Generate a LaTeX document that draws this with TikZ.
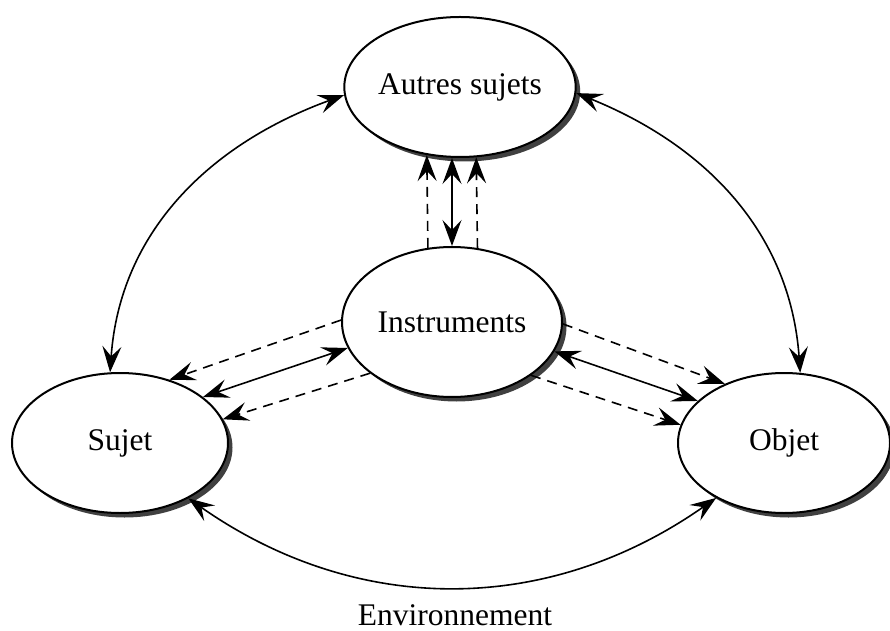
\documentclass[tikz,border=0pt]{standalone}
\usepackage{fontspec}
\setmainfont{Liberation Serif}
\usetikzlibrary{shapes.geometric,arrows.meta,shadows}
\begin{document}
\begin{tikzpicture}[x=1pt,y=1pt,
  blob/.style={ellipse,draw,line width=2pt,fill=white,inner sep=0pt,
    font=\fontsize{31.5}{36}\selectfont,
    drop shadow={shadow xshift=4.5pt,shadow yshift=-4.5pt,fill=black!75,opacity=1}},
  conn/.style={line width=1.6pt},
  tip/.style={-{Stealth[length=26pt,width=19pt,inset=10pt]}},
  dtip/.style={{Stealth[length=26pt,width=19pt,inset=10pt]}-{Stealth[length=26pt,width=19pt,inset=10pt]}},
  dashline/.style={dash pattern=on 10pt off 7pt}
]
\useasboundingbox (0,0) rectangle (890,630);
\node[blob,minimum width=222pt,minimum height=140pt] (A) at (460,543) {Autres sujets};
\node[blob,minimum width=220pt,minimum height=150pt] (I) at (452,308) {Instruments};
\node[blob,minimum width=216pt,minimum height=140pt] (S) at (120,187) {Sujet};
\node[blob,minimum width=212pt,minimum height=140pt] (O) at (784,187) {Objet};
\node[font=\fontsize{31.5}{36}\selectfont,anchor=base,inner sep=0pt] (E) at (455,5) {Environnement};

% Autres <-> Instruments
\draw[conn,dtip] (I.north) -- (I.north |- A.south);
\draw[conn,tip,dashline] (I.108.2) -- (A.244.5);
\draw[conn,tip,dashline] (I.71.1) -- (A.283.8);

% curves
\draw[conn,dtip] (A.184) to[out=200,in=86] (S.98);
\draw[conn,dtip] (A.357) to[out=-22,in=94] (O.77);
\draw[conn,dtip] (S.321) to[out=-35,in=-145] (O.219);

% Instruments <-> Sujet
\draw[conn,tip,dashline] (I.179) -- (S.52.4);
\draw[conn,dtip] (I.194.6) -- (S.29.9);
\draw[conn,tip,dashline] (I.212.6) -- (S.13.6);

% Instruments <-> Objet
\draw[conn,tip,dashline] (I.359.5) -- (O.135);
\draw[conn,dtip] (I.344.4) -- (O.154.2);
\draw[conn,tip,dashline] (I.326.7) -- (O.170.4);
\end{tikzpicture}
\end{document}
